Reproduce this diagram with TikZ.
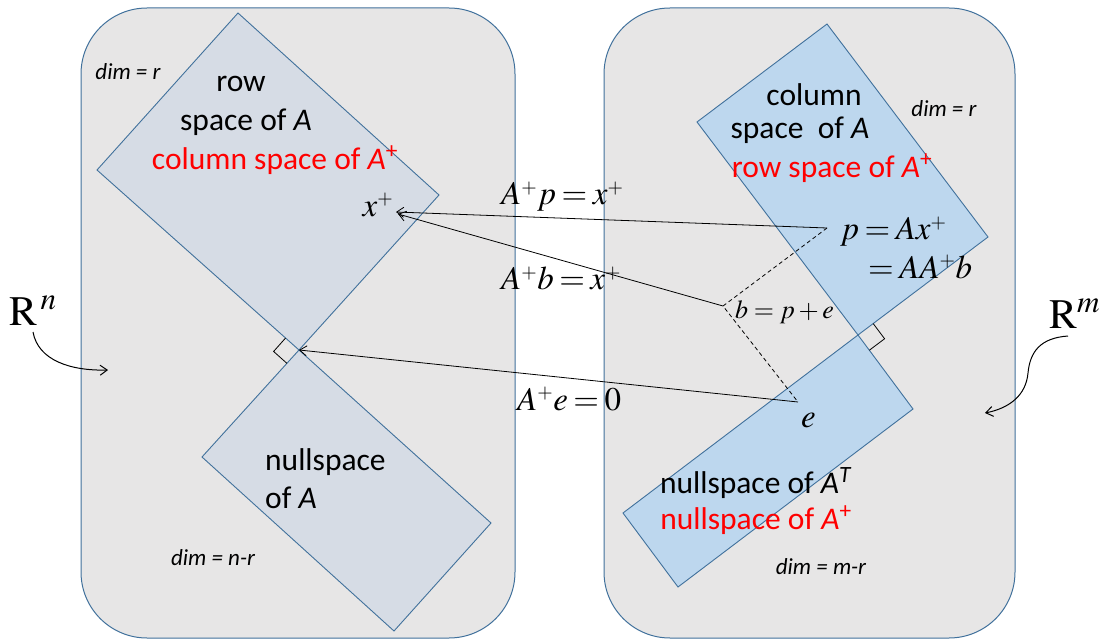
\documentclass[tikz,border=0pt]{standalone}
\usepackage{mathptmx}
\usepackage[no-math]{fontspec}
\setmainfont{Carlito}
\usetikzlibrary{arrows.meta,calc}
\definecolor{edgeblue}{RGB}{65,113,156}
\definecolor{boxgray}{RGB}{231,230,230}
\definecolor{leftfill}{RGB}{214,220,229}
\definecolor{rightfill}{RGB}{189,215,238}
\newcommand{\spl}{^{\scriptscriptstyle +}}
\newcommand{\tightm}{\thickmuskip=3mu\relax\medmuskip=2.5mu\relax}
\tikzset{
  spacebox/.style={draw=edgeblue, line width=1pt, fill=boxgray, rounded corners=66pt},
  leftsub/.style={draw=edgeblue, line width=0.9pt, fill=leftfill},
  rightsub/.style={draw=edgeblue, line width=0.9pt, fill=rightfill},
  lbl/.style={font=\fontsize{31.5}{37}\selectfont, inner sep=0pt},
  redlbl/.style={lbl, text=red},
  dimlbl/.style={font=\fontsize{23}{28}\selectfont\itshape, inner sep=0pt},
  mathlbl/.style={font=\fontsize{33}{40}\selectfont, inner sep=0pt},
  smallmath/.style={font=\fontsize{26}{32}\selectfont, inner sep=0pt},
  spacelbl/.style={font=\fontsize{42}{50}\selectfont, inner sep=0pt},
  maplink/.style={-{Straight Barb[length=7pt,width=10pt]}, line width=0.8pt},
  dashlink/.style={dash pattern=on 4pt off 3pt, line width=0.8pt},
  rightmark/.style={draw, line width=0.8pt},
  curvearrow/.style={-{Straight Barb[length=7pt,width=10pt]}, line width=1pt}
}
\begin{document}
\begin{tikzpicture}[x=1pt,y=-1pt]
\useasboundingbox (0,0) rectangle (1106,639);
% spaces
\draw[spacebox] (81,8) rectangle (515,638);
\draw[spacebox] (604,8) rectangle (1015,638);
% corner points
\coordinate (rsT) at (238,13);
\coordinate (rsR) at (439,195);
\coordinate (O) at (299,350);
\coordinate (rsL) at (97,170);
\coordinate (nsR) at (491,523);
\coordinate (nsB) at (394,631);
\coordinate (nsL) at (202,457);
\coordinate (csT) at (827,24);
\coordinate (csR) at (988,237);
\coordinate (O2) at (858,335);
\coordinate (csL) at (697,122);
\coordinate (ntR) at (913,409);
\coordinate (ntB) at (678,587);
\coordinate (ntL) at (623,513);
% subspaces
\draw[leftsub] (rsT) -- (rsR) -- (O) -- (rsL) -- cycle;
\draw[leftsub] (O) -- (nsR) -- (nsB) -- (nsL) -- cycle;
\draw[rightsub] (csT) -- (csR) -- (O2) -- (csL) -- cycle;
\draw[rightsub] (O2) -- (ntR) -- (ntB) -- (ntL) -- cycle;
% right angle marks
\draw[rightmark] ($(O)!18pt!(rsL)$) -- ($(O)!18pt!(rsL)!18pt!90:(rsL)$) -- ($(O)!18pt!(nsL)$);
\draw[rightmark] ($(O2)!19pt!(csR)$) -- ($(O2)!19pt!(csR)!19pt!-90:(csR)$) -- ($(O2)!19pt!(ntR)$);
% vectors
\coordinate (p) at (827,228);
\coordinate (b) at (723,306);
\coordinate (e) at (798,402);
\coordinate (xp) at (396,212);
\coordinate (xq) at (398,214);
\draw[dashlink] (p) -- (b) -- (e);
\draw[maplink] (p) -- (xp);
\draw[maplink] (b) -- (xq);
\draw[maplink] (e) -- (O);
% left labels
\node[dimlbl] (dimr1) at (128,72) {dim = r};
\node[lbl] (row1) at (241,84) {row};
\node[lbl] (sp1) at (246,122) {space of \textit{A}};
\node[redlbl] (cs1) at (275,160) {column space of \textit{A}\textsuperscript{+}};
\node[mathlbl] (xlab) at (378,205) {$x\spl$};
\node[lbl, anchor=west] (ns1) at (265,462) {nullspace};
\node[lbl, anchor=west] (ns2) at (265,498) {of \textit{A}};
\node[dimlbl] (dimnr) at (213,558) {dim = n-r};
% right labels
\node[lbl] (col2) at (814,95) {column};
\node[lbl] (sp2) at (800,130) {space~ of \textit{A}};
\node[redlbl] (rs2) at (832,168) {row space of \textit{A}\textsuperscript{+}};
\node[dimlbl] (dimr2) at (944,109) {dim = r};
\node[mathlbl, anchor=base west] (plab) at (840,240) {$\tightm p=Ax\spl$};
\node[mathlbl, anchor=base west] (pAAb) at (868,278) {$\tightm =AA\spl b$};
\node[smallmath, anchor=base west] (blab) at (735,318) {$b=p+e$};
\node[mathlbl, anchor=base west] (elab) at (801,427) {$e$};
\node[lbl] (nt1) at (756,483) {nullspace of \textit{A}\textsuperscript{\textit{T}}};
\node[redlbl] (nt2) at (756,520) {nullspace of \textit{A}\textsuperscript{+}};
\node[dimlbl] (dimmr) at (821,567) {dim = m-r};
% mapping labels
\node[mathlbl, anchor=base west] (m1) at (501,205) {$\tightm A\spl p=x\spl$};
\node[mathlbl, anchor=base west] (m2) at (501,290) {$\tightm A\spl b=x\spl$};
\node[mathlbl, anchor=base west] (m3) at (517,410) {$\tightm A\spl e=0$};
% R^n and R^m
\node[spacelbl, anchor=base west] (Rn) at (9,325) {$\mathrm{R}^{\,n}$};
\node[spacelbl, anchor=base west] (Rm) at (1049,328) {$\mathrm{R}^{m}$};
\coordinate (rnS) at (33,332);
\coordinate (rnE) at (108,370);
\draw[curvearrow] (rnS) .. controls (38,360) and (70,371) .. (rnE);
\coordinate (rmS) at (1068,336);
\coordinate (rmM) at (1028,373);
\coordinate (rmE) at (985,413);
\draw[curvearrow] (rmS) .. controls (1040,338) and (1030,352) .. (rmM) .. controls (1026,395) and (1010,408) .. (rmE);
\end{tikzpicture}
\end{document}
